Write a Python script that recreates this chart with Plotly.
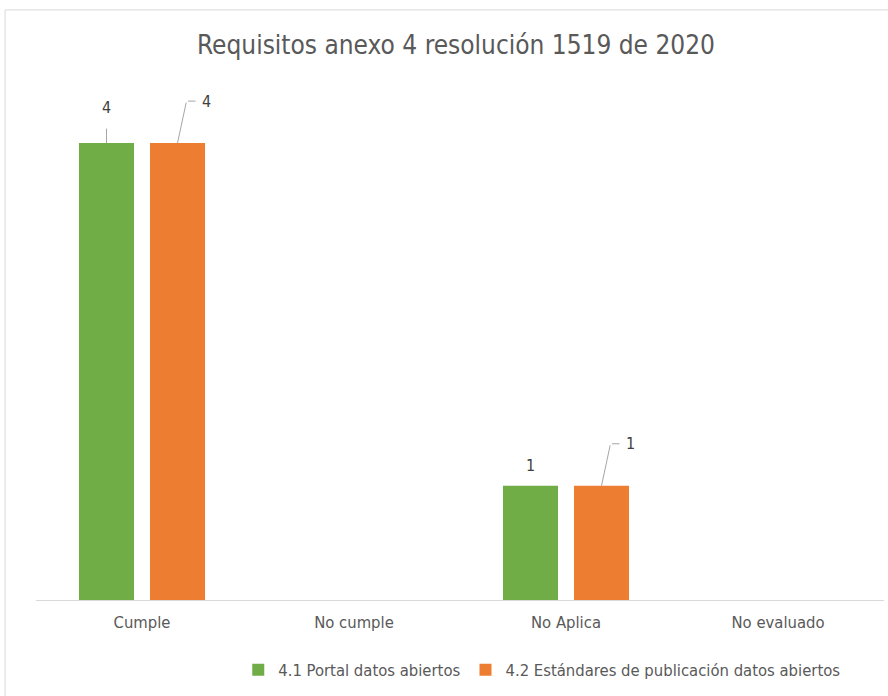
import plotly.graph_objects as go

categories = ["Cumple", "No cumple", "No Aplica", "No evaluado"]
series_names = ["4.1 Portal datos abiertos", "4.2 Estándares de publicación datos abiertos"]
portal_values = [4, 0, 1, 0]
estandares_values = [4, 0, 1, 0]
title_text = "Requisitos anexo 4 resolución 1519 de 2020"

colors = ["#70AD47", "#ED7D31"]
FONT = "Liberation Sans Narrow, DejaVu Sans Condensed, Arial Narrow, sans-serif"
TXT = "#595959"
LEAD = "#A6A6A6"

fig = go.Figure()
for name, vals, col in zip(series_names, [portal_values, estandares_values], colors):
    fig.add_trace(go.Bar(x=categories, y=vals, name=name, marker_color=col,
                         marker_line_width=0, hoverinfo="skip"))

# px offsets of each series' bar centre relative to the category centre
series_shift = [-35.5, 35.5]
annotations = []
for si, vals in enumerate([portal_values, estandares_values]):
    for cat, v in zip(categories, vals):
        if not v:
            continue
        xs = series_shift[si]
        if si == 0:
            annotations.append(dict(x=cat, y=v, xshift=xs, yshift=36 if v == max(vals) else 20,
                                    text=str(v), showarrow=False,
                                    font=dict(size=16, color="#404040", family=FONT)))
            if v == max(vals):
                annotations.append(dict(x=cat, y=v, xshift=xs, text="", showarrow=True,
                                        ax=0, ay=-16, arrowhead=0, arrowwidth=1,
                                        arrowcolor=LEAD))
        else:
            annotations.append(dict(x=cat, y=v, xshift=xs + 29, yshift=42,
                                    text=str(v), showarrow=False,
                                    font=dict(size=16, color="#404040", family=FONT)))
            annotations.append(dict(x=cat, y=v, xshift=xs, text="", showarrow=True,
                                    ax=9, ay=-42, arrowhead=0, arrowwidth=1,
                                    arrowcolor=LEAD))
            annotations.append(dict(x=cat, y=v, xshift=xs + 18, yshift=42, text="",
                                    showarrow=True, ax=-9, ay=0, arrowhead=0,
                                    arrowwidth=1, arrowcolor=LEAD))

fig.update_layout(
    width=888, height=696,
    margin=dict(l=36, r=4, t=86, b=96),
    paper_bgcolor="white", plot_bgcolor="white",
    font=dict(family=FONT, color=TXT, size=16),
    title=dict(text=title_text, x=0.5135, xanchor="center", y=0.935, yanchor="middle",
               font=dict(size=26, color=TXT, family=FONT)),
    barmode="group", bargap=0.33, bargroupgap=0.225,
    showlegend=True,
    legend=dict(orientation="h", x=0.597, xanchor="center", y=-0.136, yanchor="middle",
                font=dict(size=16.5, color=TXT, family=FONT), itemclick=False,
                traceorder="normal"),
    annotations=annotations,
    shapes=[dict(type="rect", xref="paper", yref="paper", x0=-0.0365, x1=1.02,
                 y0=-0.3, y1=1.148, line=dict(color="#D9D9D9", width=1),
                 fillcolor="rgba(0,0,0,0)", layer="below")],
)
fig.update_xaxes(showline=True, linecolor="#D9D9D9", linewidth=1, ticks="",
                 ticklabelstandoff=7,
                 tickfont=dict(size=16.5, color=TXT, family=FONT), showgrid=False)
fig.update_yaxes(range=[0, 4.5], visible=False, showgrid=False, zeroline=False)

fig.write_html("out.html", config={"displayModeBar": False},
               post_script="document.body.style.margin='0px';document.body.style.overflow='hidden';")
